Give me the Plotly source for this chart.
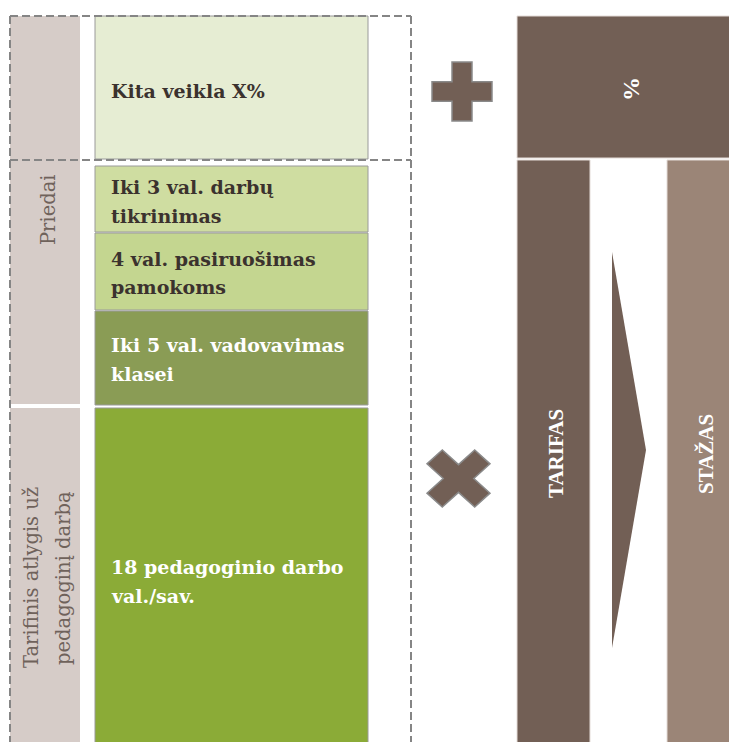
import plotly.graph_objects as go
import math

W, H = 729, 742

# ---------------- content ----------------
block_lines = [
    ["Kita veikla X%"],
    ["Iki 3 val. darbų", "tikrinimas"],
    ["4 val. pasiruošimas", "pamokoms"],
    ["Iki 5 val. vadovavimas", "klasei"],
    ["18 pedagoginio darbo", "val./sav."],
]
block_fill = ["#e6edd3", "#cfdda1", "#c4d690", "#8a9c55", "#8bab37"]
block_font_color = ["#3b322e", "#3b322e", "#3b322e", "#ffffff", "#ffffff"]

side_labels = [["Priedai"], ["Tarifinis atlygis už", "pedagoginį darbą"]]
side_fill = "#d6ccc8"
side_font_color = "#6f625b"

right_labels = ["%", "TARIFAS", "STAŽAS"]
right_fill = ["#725f55", "#725f55", "#9b8577"]
sign_fill = "#725f55"
dash_color = "#858585"

# ---------------- geometry (layout only) ----------------
block_x = (95, 368)
block_y = [(16, 159), (166, 232), (233, 310), (311, 405), (408, 748)]
block_line_y = [[91], [186.5, 215.5], [258.5, 286.5], [344.5, 373.5], [566.5, 595.5]]
text_x = 108.5

side_x = (10, 80)
side_y = [(16, 404), (408, 748)]
side_text_pos = [[(48, 210)], [(31, 578), (63, 578)]]

right_boxes = [(517, 731, 16, 158), (517, 590, 160, 748), (667, 731, 160, 748)]
right_text_pos = [(631, 89), (556, 454), (706, 454)]
right_font_size = [24, 21, 21]

shapes = []

# left grey label column
for (y0, y1) in side_y:
    shapes.append(dict(type="rect", x0=side_x[0], x1=side_x[1], y0=y0, y1=y1,
                       fillcolor=side_fill, line=dict(width=0), layer="below"))

# green blocks
for (y0, y1), fc in zip(block_y, block_fill):
    shapes.append(dict(type="rect", x0=block_x[0], x1=block_x[1], y0=y0, y1=y1,
                       fillcolor=fc, line=dict(color="#9a9a9a", width=1)))

# right brown boxes
for (x0, x1, y0, y1), fc in zip(right_boxes, right_fill):
    shapes.append(dict(type="rect", x0=x0, x1=x1, y0=y0, y1=y1,
                       fillcolor=fc, line=dict(color="#e4dcd8", width=1)))

# arrow triangle between TARIFAS and STAŽAS
shapes.append(dict(type="path", path="M 612,252 L 646,450 L 612,648 Z",
                   fillcolor=sign_fill, line=dict(width=0)))


def poly(points):
    return "M " + " L ".join(f"{x:.2f},{y:.2f}" for x, y in points) + " Z"


def cross_points(a, b):
    return [(a, b), (a, a), (b, a), (b, -a), (a, -a), (a, -b),
            (-a, -b), (-a, -a), (-b, -a), (-b, a), (-a, a), (-a, b)]


# plus sign
pc = (462, 91.5)
plus = [(pc[0] + x, pc[1] + y * 0.98) for x, y in cross_points(10, 30)]
shapes.append(dict(type="path", path=poly(plus), fillcolor=sign_fill,
                   line=dict(color="#8a8a8a", width=1.5)))

# multiplication sign
xc = (458.5, 478.5)
c45 = math.cos(math.pi / 4)
times = []
for x, y in cross_points(10.3, 32.1):
    rx = (x - y) * c45
    ry = (x + y) * c45
    times.append((xc[0] + rx * 1.05, xc[1] + ry * 0.95))
shapes.append(dict(type="path", path=poly(times), fillcolor=sign_fill,
                   line=dict(color="#8a8a8a", width=1.5)))

# dashed frame
dash = dict(color=dash_color, width=2, dash="8px,4px")
for x0, y0, x1, y1 in [(10, 16, 411, 16), (10, 160, 411, 160),
                       (10, 16, 10, 745), (411, 16, 411, 745)]:
    shapes.append(dict(type="line", x0=x0, y0=y0, x1=x1, y1=y1, line=dash))

annotations = []
for lines, ys, fc in zip(block_lines, block_line_y, block_font_color):
    for txt, y in zip(lines, ys):
        annotations.append(dict(x=text_x, y=y, text=txt, showarrow=False,
                                xanchor="left", yanchor="middle",
                                font=dict(family="DejaVu Serif", size=19,
                                          color=fc, weight="bold")))

for lines, pos in zip(side_labels, side_text_pos):
    for txt, (x, y) in zip(lines, pos):
        annotations.append(dict(x=x, y=y, text=txt, showarrow=False, textangle=-90,
                                xanchor="center", yanchor="middle",
                                font=dict(family="DejaVu Serif", size=19.5,
                                          color=side_font_color)))

for txt, (x, y), fs in zip(right_labels, right_text_pos, right_font_size):
    annotations.append(dict(x=x, y=y, text=txt, showarrow=False, textangle=-90,
                            xanchor="center", yanchor="middle",
                            font=dict(family="Liberation Serif", size=fs,
                                      color="#ffffff", weight="bold")))

fig = go.Figure()
fig.add_trace(go.Scatter(x=[0], y=[0], mode="markers", marker=dict(opacity=0),
                         hoverinfo="skip", showlegend=False))
fig.update_layout(
    width=W, height=H, margin=dict(l=0, r=0, t=0, b=0),
    paper_bgcolor="white", plot_bgcolor="white",
    xaxis=dict(range=[0, W], visible=False, fixedrange=True),
    yaxis=dict(range=[H, 0], visible=False, fixedrange=True),
    shapes=shapes, annotations=annotations, showlegend=False,
)
fig.write_html("out.html", config={"displayModeBar": False},
               post_script="document.body.style.margin='0';")
